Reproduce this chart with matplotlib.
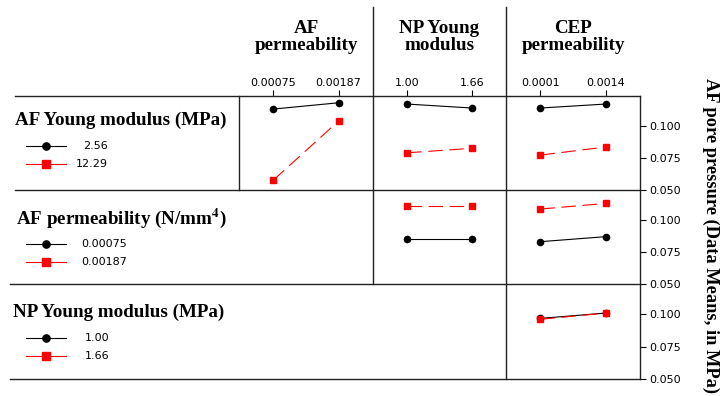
import matplotlib
matplotlib.use("Agg")
import matplotlib.pyplot as plt
from matplotlib.lines import Line2D

# factor levels
af_young = ["2.56", "12.29"]
af_perm = [0.00075, 0.00187]
af_perm_labels = ["0.00075", "0.00187"]
np_young = [1.00, 1.66]
np_young_labels = ["1.00", "1.66"]
cep_perm = [0.0001, 0.0014]
cep_perm_labels = ["0.0001", "0.0014"]

# interaction means (rows = levels of row factor, cols = levels of column factor)
afy_by_afperm = [[0.1133, 0.1182], [0.0578, 0.1039]]
afy_by_npy = [[0.1172, 0.1141], [0.0791, 0.0826]]
afy_by_cep = [[0.1141, 0.1172], [0.0773, 0.0836]]
afperm_by_npy = [[0.0849, 0.0849], [0.1109, 0.1109]]
afperm_by_cep = [[0.0831, 0.0870], [0.1086, 0.1130]]
npy_by_cep = [[0.0969, 0.1010], [0.0962, 0.1010]]

yticks = [0.050, 0.075, 0.100]

W, H = 723, 396
SERIF = "Liberation Serif"
plt.rcParams["mathtext.fontset"] = "stix"

fig = plt.figure(figsize=(W / 100, H / 100), dpi=100)


def fx(x):
    return x / W


def fy(y):
    return 1 - y / H


cols_x = [239, 373, 506, 640]
rows_y = [96, 190, 284, 379]

col_levels = [af_perm, np_young, cep_perm]
col_labels = [af_perm_labels, np_young_labels, cep_perm_labels]
col_titles = ["AF\npermeability", "NP Young\nmodulus", "CEP\npermeability"]
panels = {
    (0, 0): afy_by_afperm, (0, 1): afy_by_npy, (0, 2): afy_by_cep,
    (1, 1): afperm_by_npy, (1, 2): afperm_by_cep,
    (2, 2): npy_by_cep,
}

styles = [
    dict(color="black", marker="o", markersize=4.5, linestyle="-", linewidth=0.8),
    dict(color="#ff0000", marker="s", markersize=4.8, linestyle=(0, (13, 6)), linewidth=0.8),
]

for (r, c), means in panels.items():
    x0, x1 = cols_x[c], cols_x[c + 1]
    y0, y1 = rows_y[r], rows_y[r + 1]
    ax = fig.add_axes([fx(x0), fy(y1), fx(x1 - x0), (y1 - y0) / H])
    ax.patch.set_visible(False)
    for s in ax.spines.values():
        s.set_visible(False)
    lv = col_levels[c]
    span = lv[1] - lv[0]
    ax.set_xlim(lv[0] - 0.53 * span, lv[1] + 0.53 * span)
    ax.set_ylim(0.050, 0.1235)
    for k, vals in enumerate(means):
        ax.plot(lv, vals, clip_on=False, **styles[k])
    if r == 0:
        ax.xaxis.tick_top()
        ax.set_xticks(lv)
        ax.set_xticklabels(col_labels[c], fontsize=8, family="DejaVu Sans")
        ax.tick_params(axis="x", direction="out", length=4, width=0.8, pad=2)
    else:
        ax.set_xticks([])
    if c == 2:
        ax.yaxis.tick_right()
        ax.set_yticks(yticks)
        ax.set_yticklabels([f"{v:.3f}" for v in yticks], fontsize=8, family="DejaVu Sans")
        ax.tick_params(axis="y", direction="out", length=4, width=0.8, pad=3)
    else:
        ax.set_yticks([])

# grid lines
line_kw = dict(color="#222222", linewidth=1.0)
for y, xs in zip(rows_y, [15, 15, 10, 10]):
    fig.add_artist(Line2D([fx(xs), fx(640)], [fy(y), fy(y)], **line_kw))
for x, (ya, yb) in zip(cols_x, [(96, 190), (7, 284), (7, 379), (96, 379)]):
    fig.add_artist(Line2D([fx(x), fx(x)], [fy(ya), fy(yb)], **line_kw))

# column headers
for c, t in enumerate(col_titles):
    fig.text(fx((cols_x[c] + cols_x[c + 1]) / 2), fy(37), t, ha="center", va="center",
             family=SERIF, fontweight="bold", fontsize=13.7, linespacing=1.0)

# row legends
row_titles = ["AF Young modulus (MPa)", r"AF permeability (N/mm$^\mathbf{4}$)",
              "NP Young modulus (MPa)"]
row_level_labels = [af_young, af_perm_labels, np_young_labels]
title_y = [120, 218, 312]
title_x = [15, 16, 13]
for r in range(3):
    fig.text(fx(title_x[r]), fy(title_y[r]), row_titles[r], ha="left", va="center",
             family=SERIF, fontweight="bold", fontsize=13.7)
    for k in range(2):
        ly = title_y[r] + 26 + 18 * k
        st = dict(styles[k])
        st["linestyle"] = "-"
        st["markersize"] = 5.2
        fig.add_artist(Line2D([fx(26), fx(46), fx(66)], [fy(ly)] * 3, markevery=[1], **st))
        if r == 0:
            fig.text(fx(108), fy(ly), row_level_labels[r][k], ha="right", va="center",
                     fontsize=8, family="DejaVu Sans")
        else:
            fig.text(fx(81 if r == 1 else 85), fy(ly), row_level_labels[r][k], ha="left",
                     va="center", fontsize=8, family="DejaVu Sans")

fig.text(fx(711), fy(235), "AF pore pressure (Data Means, in MPa)", rotation=-90,
         ha="center", va="center", family=SERIF, fontweight="bold", fontsize=13.2)

fig.savefig("out.png", dpi=100)
